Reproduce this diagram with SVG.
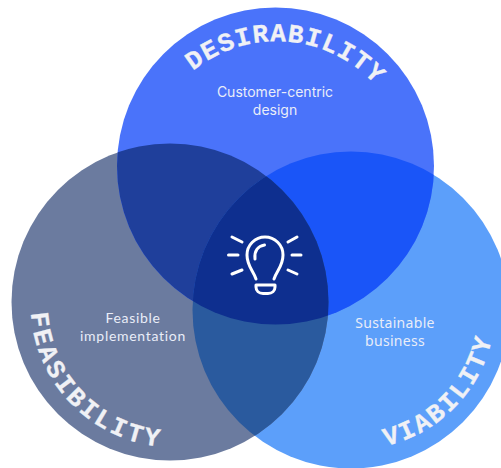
<svg xmlns="http://www.w3.org/2000/svg" width="501" height="468" viewBox="0 0 501 468">
<style>
.t{fill:#e9edf8;font-size:14px;text-anchor:middle}
.h{fill:#f0f1f5;stroke:#f0f1f5;stroke-width:.3;font-family:"Liberation Mono",monospace;font-weight:700;font-size:26px;letter-spacing:1.2px}
.i{fill:none;stroke:#fff;stroke-width:3;stroke-linecap:round;stroke-linejoin:round}
</style>
<defs>
<circle id="a" cx="275.5" cy="166" r="158.500"/>
<circle id="b" cx="170" cy="302" r="158.500"/>
<circle id="c" cx="351" cy="310" r="158.500"/>
<clipPath id="ca"><use href="#a"/></clipPath>
<clipPath id="cb"><use href="#b"/></clipPath>
<path id="pa" d="M193 71A133 133 0 0 1 385 97"/>
<path id="pb" d="M31 313A143 143 0 0 0 165 447"/>
<path id="pc" d="M386 446A142 142 0 0 0 494 328"/>
</defs>
<rect width="501" height="468" fill="#fff"/>
<g id="viability"><use href="#c" fill="#5c9ffa"/></g>
<g id="feasibility"><use href="#b" fill="#6b7b9f"/></g>
<g id="desirability"><use href="#a" fill="#4a73fa"/></g>
<g id="overlaps">
<g clip-path="url(#ca)"><use href="#b" fill="#1f3f9b"/><use href="#c" fill="#1a55f8"/></g>
<g clip-path="url(#cb)"><use href="#c" fill="#2a5a9e"/></g>
<g clip-path="url(#ca)"><g clip-path="url(#cb)"><use href="#c" fill="#0e2f8f"/></g></g>
</g>
<g id="labels">
<text class="h"><textPath href="#pa">DESIRABILITY</textPath></text>
<text class="h" style="letter-spacing:2.9px"><textPath href="#pb">FEASIBILITY</textPath></text>
<text class="h" style="letter-spacing:2.2px"><textPath href="#pc">VIABILITY</textPath></text>
<text class="t" font-family="Inter,sans-serif" x="275" y="97">Customer-centric</text>
<text class="t" font-family="Inter,sans-serif" x="275" y="115">design</text>
<text class="t" font-family="Lato,sans-serif" letter-spacing=".7" x="133" y="323">Feasible</text>
<text class="t" font-family="Lato,sans-serif" letter-spacing=".7" x="133" y="341">implementation</text>
<text class="t" font-family="'Noto Sans',sans-serif" letter-spacing=".3" x="395" y="328">Sustainable</text>
<text class="t" font-family="'Noto Sans',sans-serif" letter-spacing=".3" x="395" y="346">business</text>
</g>
<g id="bulb" class="i">
<path d="M256 279C253 270 247 266 247 255A18 18 0 0 1 283 255C283 266 277 270 274 279"/>
<path d="M255 259C254 251 258 246 264.500 245"/>
<path d="M256 285H275V287C275 291 272 293.500 268 293.500H263C259 293.500 256 291 256 287Z"/>
<path d="M232 237L242 242M228.500 255H238M232 274L242 270M288 242L297 237M292 255H301M288 270L297 274"/>
</g>
</svg>
